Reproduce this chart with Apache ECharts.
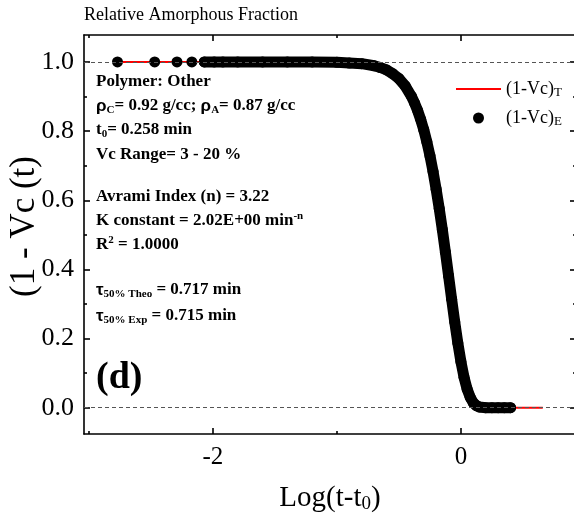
<!DOCTYPE html>
<html>
<head>
<meta charset="utf-8">
<script src="https://cdn.jsdelivr.net/npm/echarts@6/dist/echarts.min.js"></script>
<style>
  html, body { margin: 0; padding: 0; background: #fff; }
  #chart { width: 574px; height: 517px; }
</style>
</head>
<body>
<div id="chart"></div>
<script>
// Experimental relative amorphous fraction vs log(t - t0)
// early, well-separated samples
const expSparseLogT = [-2.77, -2.47, -2.29, -2.17];
const expSparseFrac = [1.0, 1.0, 1.0, 1.0];
// dense samples (they overlap into a continuous band)
const expLogT = [-2.07, -1.99, -1.92, -1.8, -1.6, -1.4, -1.2, -1.0, -0.9, -0.8, -0.7, -0.65,
  -0.6, -0.55, -0.5, -0.45, -0.4, -0.375, -0.35, -0.325, -0.3, -0.275, -0.25, -0.225,
  -0.2, -0.175, -0.15, -0.125, -0.1, -0.075, -0.05, -0.025, 0, 0.025, 0.05, 0.075,
  0.1, 0.125, 0.15, 0.2, 0.25, 0.3, 0.35, 0.4];
const expFrac = [1.0, 1.0, 1.0, 1.0, 1.0, 1.0, 1.0, 0.999, 0.997, 0.995, 0.989, 0.984,
  0.977, 0.966, 0.952, 0.931, 0.901, 0.882, 0.860, 0.834, 0.804, 0.769, 0.729, 0.683,
  0.632, 0.576, 0.515, 0.450, 0.382, 0.314, 0.248, 0.187, 0.133, 0.088, 0.054, 0.030,
  0.014, 0.006, 0.002, 0.0, 0.0, 0.0, 0.0, 0.0];

// Avrami fit curve
const theoLogT = [-2.77, -2.0, -1.5, -1.0, -0.9, -0.8, -0.7, -0.65, -0.6, -0.55, -0.5,
  -0.45, -0.4, -0.375, -0.35, -0.325, -0.3, -0.275, -0.25, -0.225, -0.2, -0.175, -0.15,
  -0.125, -0.1, -0.075, -0.05, -0.025, 0, 0.025, 0.05, 0.075, 0.1, 0.125, 0.15, 0.2,
  0.3, 0.45, 0.66];
const theoFrac = [1.0, 1.0, 1.0, 0.999, 0.997, 0.995, 0.989, 0.984, 0.977, 0.966, 0.952,
  0.931, 0.901, 0.882, 0.860, 0.834, 0.804, 0.769, 0.729, 0.683, 0.632, 0.576, 0.515,
  0.450, 0.382, 0.314, 0.248, 0.187, 0.133, 0.088, 0.054, 0.030, 0.014, 0.006, 0.002, 0.0,
  0.0, 0.0, 0.0];

// Axis ticks
const xMajorTicks = [-2, 0];
const xMinorTicks = [-3, -1, 1];
const yMajorTicks = [0, 0.2, 0.4, 0.6, 0.8, 1.0];
const yMinorTicks = [0.1, 0.3, 0.5, 0.7, 0.9];
const refLevels = [0, 1];

const SERIF = "'Liberation Serif', 'Times New Roman', serif";
const X_MIN = -3.04, X_MAX = 0.928;
const Y_MIN = -0.076, Y_MAX = 1.078;

const zip = (a, b) => a.map((v, i) => [v, b[i]]);
const expAll = zip(expSparseLogT, expSparseFrac).concat(zip(expLogT, expFrac));
const expBand = zip(expLogT, expFrac);
const theo = zip(theoLogT, theoFrac);

function xAxisDef(position, ticks, len, withLine, withLabels) {
  return {
    type: 'value', position: position, min: X_MIN, max: X_MAX,
    axisLine: { show: withLine, onZero: false, lineStyle: { color: '#000', width: 1.6 } },
    axisTick: { show: true, inside: true, length: len, customValues: ticks,
      lineStyle: { color: '#000', width: 1.6 } },
    axisLabel: withLabels ? {
      show: true, customValues: ticks, margin: 11, color: '#000',
      fontFamily: SERIF, fontSize: 25, formatter: v => String(Math.round(v))
    } : { show: false },
    splitLine: { show: false }
  };
}
function yAxisDef(position, ticks, len, withLine, withLabels) {
  return {
    type: 'value', position: position, min: Y_MIN, max: Y_MAX,
    axisLine: { show: withLine, onZero: false, lineStyle: { color: '#000', width: 1.6 } },
    axisTick: { show: true, inside: true, length: len, customValues: ticks,
      lineStyle: { color: '#000', width: 1.6 } },
    axisLabel: withLabels ? {
      show: true, customValues: ticks, margin: 10, color: '#000',
      fontFamily: SERIF, fontSize: 26, formatter: v => v.toFixed(1)
    } : { show: false },
    splitLine: { show: false }
  };
}

const xMain = xAxisDef('bottom', xMajorTicks, 6, true, true);
xMain.name = '{m|Log(t-t}{s|0}{m|)}';
xMain.nameLocation = 'middle';
xMain.nameGap = 48;
xMain.nameMoveOverlap = false;
xMain.nameTextStyle = {
  rich: {
    m: { fontFamily: SERIF, fontSize: 29, color: '#000', lineHeight: 32, verticalAlign: 'middle' },
    s: { fontFamily: SERIF, fontSize: 19, color: '#000', lineHeight: 19, verticalAlign: 'bottom' }
  }
};

const yMain = yAxisDef('left', yMajorTicks, 6, true, true);
yMain.name = '(1 - Vc (t)';
yMain.nameLocation = 'middle';
yMain.nameGap = 42;
yMain.nameMoveOverlap = false;
yMain.nameTextStyle = { fontFamily: SERIF, fontSize: 35, color: '#000', padding: [0, 0, 0, 16] };

const bold = { fontFamily: SERIF, fontSize: 17, fontWeight: 'bold', color: '#000',
  lineHeight: 20, verticalAlign: 'middle' };
const sub = { fontFamily: SERIF, fontSize: 11, fontWeight: 'bold', color: '#000',
  lineHeight: 11, verticalAlign: 'bottom' };
const sup = { fontFamily: SERIF, fontSize: 11, fontWeight: 'bold', color: '#000',
  lineHeight: 11, verticalAlign: 'top' };
const greek = { fontFamily: "'Liberation Sans', Arial, sans-serif", fontSize: 17,
  fontWeight: 'bold', color: '#000', lineHeight: 20, verticalAlign: 'middle' };
const richNote = { b: bold, s: sub, p: sup, g: greek };

function note(text, y) {
  return { type: 'text', x: 96, y: y, silent: true,
    style: { text: text, rich: richNote, verticalAlign: 'middle', align: 'left' } };
}

const option = {
  animation: false,
  backgroundColor: '#fff',
  title: {
    text: 'Relative Amorphous Fraction', left: 84, top: 6, padding: 0,
    textStyle: { fontFamily: SERIF, fontSize: 18, fontWeight: 'normal', color: '#000' }
  },
  grid: { left: 84, top: 35, width: 492, height: 399, containLabel: false,
    outerBoundsMode: 'none' },
  legend: {
    orient: 'vertical', left: 450, top: 75, itemWidth: 45, itemHeight: 11, itemGap: 10,
    data: [
      { name: '(1-Vc)T', itemStyle: { opacity: 0 } },
      { name: '(1-Vc)E', icon: 'circle' }
    ],
    formatter: n => '{m|(1-Vc)}{s|' + n.slice(-1) + '}',
    textStyle: {
      rich: {
        m: { fontFamily: SERIF, fontSize: 18, color: '#000', lineHeight: 20, verticalAlign: 'middle' },
        s: { fontFamily: SERIF, fontSize: 13, color: '#000', lineHeight: 13, verticalAlign: 'bottom' }
      }
    }
  },
  xAxis: [
    xMain,
    xAxisDef('bottom', xMinorTicks, 3, false, false),
    xAxisDef('top', xMajorTicks, 6, true, false),
    xAxisDef('top', xMinorTicks, 3, false, false)
  ],
  yAxis: [
    yMain,
    yAxisDef('left', yMinorTicks, 3, false, false),
    yAxisDef('right', yMajorTicks, 6, true, false),
    yAxisDef('right', yMinorTicks, 3, false, false)
  ],
  series: [
    {
      name: '(1-Vc)T', type: 'line', data: theo, symbol: 'none', z: 3,
      lineStyle: { color: '#ff0000', width: 2 }, itemStyle: { color: '#ff0000' },
      markLine: {
        silent: true, symbol: ['none', 'none'], label: { show: false },
        lineStyle: { color: '#555', width: 1, type: [4, 3] },
        data: refLevels.map(v => ({ yAxis: v }))
      }
    },
    {
      name: '(1-Vc)E', type: 'scatter', data: expAll, symbol: 'circle', symbolSize: 11, z: 4,
      itemStyle: { color: '#000', opacity: 1 }
    },
    {
      name: '(1-Vc)E', type: 'line', data: expBand, symbol: 'none', z: 4,
      lineStyle: { color: '#000', width: 11, cap: 'round', join: 'round' },
      itemStyle: { color: '#000' }
    }
  ],
  graphic: [
    note('{b|Polymer: Other}', 82),
    note('{g|ρ}{s|C}{b|= 0.92 g/cc; }{g|ρ}{s|A}{b|= 0.87 g/cc}', 106),
    note('{b|t}{s|0}{b|= 0.258 min}', 130),
    note('{b|Vc Range= 3 - 20 %}', 155),
    note('{b|Avrami Index (n) = 3.22}', 197),
    note('{b|K constant = 2.02E+00 min}{p|-n}', 221),
    note('{b|R}{p|2}{b| = 1.0000}', 245),
    note('{g|τ}{s|50% Theo}{b| = 0.717 min}', 290),
    note('{g|τ}{s|50% Exp}{b| = 0.715 min}', 316),
    { type: 'text', x: 96, y: 378, silent: true,
      style: { text: '(d)', fontFamily: SERIF, fontSize: 38, fontWeight: 'bold', fill: '#000',
        verticalAlign: 'middle', align: 'left' } }
  ]
};

const chart = echarts.init(document.getElementById('chart'), null, { renderer: 'canvas' });
chart.setOption(option);
</script>
</body>
</html>
